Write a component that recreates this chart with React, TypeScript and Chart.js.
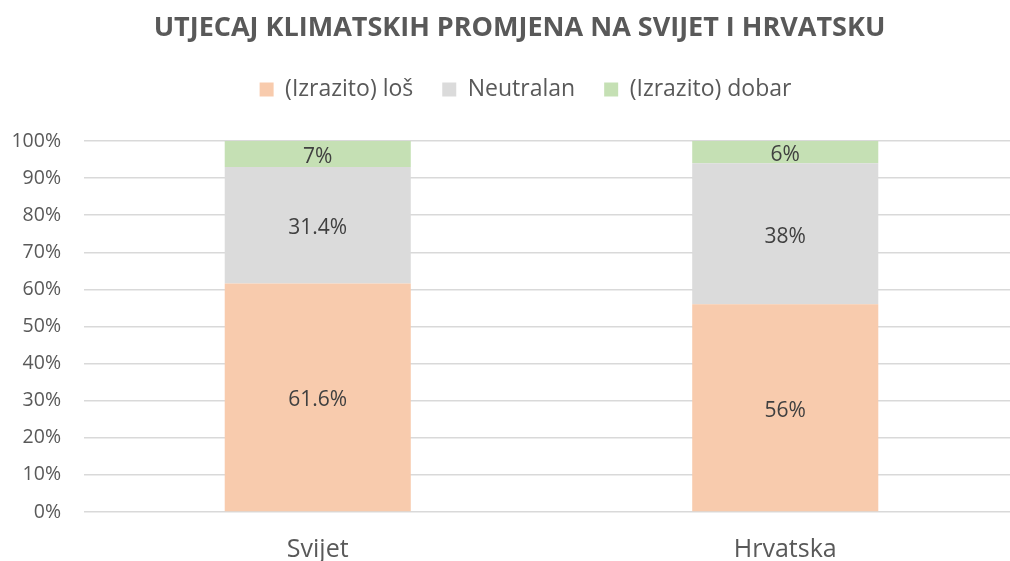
import React, { useEffect, useRef } from "react";
import { Chart, registerables } from "chart.js";

Chart.register(...registerables);

const title = "UTJECAJ KLIMATSKIH PROMJENA NA SVIJET I HRVATSKU";
const categories = ["Svijet", "Hrvatska"];
const seriesNames = ["(Izrazito) loš", "Neutralan", "(Izrazito) dobar"];
const losValues = [61.6, 56];
const neutralValues = [31.4, 38];
const dobarValues = [7, 6];
const seriesColors = ["#F8CBAD", "#DBDBDB", "#C5E0B4"];
const yTicks = [0, 10, 20, 30, 40, 50, 60, 70, 80, 90, 100];

const FONT = "'Open Sans', 'Noto Sans', sans-serif";

const labelPlugin = {
  id: "barLabels",
  afterDatasetsDraw(chart: any) {
    const ctx = chart.ctx;
    ctx.save();
    ctx.font = `21px ${FONT}`;
    ctx.fillStyle = "#404040";
    ctx.textAlign = "center";
    ctx.textBaseline = "middle";
    chart.data.datasets.forEach((ds: any, di: number) => {
      const meta = chart.getDatasetMeta(di);
      meta.data.forEach((bar: any, i: number) => {
        const v = ds.data[i];
        const y = (bar.y + bar.base) / 2;
        ctx.fillText(`${v}%`, bar.x, y + 3);
      });
    });
    ctx.restore();
  },
};

const shiftPlugin = {
  id: "shiftHeader",
  afterLayout(chart: any) {
    if (chart.titleBlock) {
      chart.titleBlock.left += 10;
      chart.titleBlock.right += 10;
    }
    if (chart.legend) {
      chart.legend.left += 16;
      chart.legend.right += 16;
    }
  },
};

export default function App() {
  const ref = useRef<HTMLCanvasElement>(null);
  useEffect(() => {
    if (!ref.current) return;
    const values = [losValues, neutralValues, dobarValues];
    const chart = new Chart(ref.current, {
      type: "bar",
      data: {
        labels: categories,
        datasets: seriesNames.map((name, i) => ({
          label: name,
          data: values[i],
          backgroundColor: seriesColors[i],
          borderWidth: 0,
          categoryPercentage: 1,
          barPercentage: 0.398,
        })),
      },
      options: {
        responsive: false,
        animation: false,
        layout: { padding: { left: 0, right: 0, top: 0, bottom: 0 } },
        plugins: {
          title: {
            display: true,
            text: title,
            color: "#595959",
            font: { family: FONT, size: 27, weight: "bold" },
            padding: { top: 12, bottom: 4.6 },
          },
          subtitle: {
            display: true,
            text: " ",
            weight: 500,
            font: { size: 10, lineHeight: 1 },
            padding: { top: 0, bottom: 20 },
          },
          legend: {
            display: true,
            position: "top",
            labels: {
              color: "#595959",
              font: { family: FONT, size: 23 },
              boxWidth: 14,
              boxHeight: 14,
              padding: 29,
            },
          },
          tooltip: { enabled: false },
        },
        scales: {
          x: {
            stacked: true,
            grid: { display: false },
            border: { display: false },
            ticks: {
              color: "#595959",
              font: { family: FONT, size: 25 },
              padding: 15,
            },
            afterFit(scale: any) {
              scale.height = 49;
            },
          },
          y: {
            stacked: true,
            min: 0,
            max: 100,
            afterBuildTicks(scale: any) {
              scale.ticks = yTicks.map((v) => ({ value: v }));
            },
            grid: { color: "#D9D9D9", lineWidth: 1.5, drawTicks: false },
            border: { display: false },
            ticks: {
              color: "#595959",
              font: { family: FONT, size: 19.5 },
              padding: 23,
              callback: (v: any) => `${v}%`,
            },
            afterFit(scale: any) {
              scale.width = 84;
            },
          },
        },
      },
      plugins: [labelPlugin, shiftPlugin],
    });
    return () => chart.destroy();
  }, []);
  return (
    <div style={{ position: "absolute", left: 0, top: 0, width: 1010, height: 561, overflow: "hidden", background: "#fff" }}>
      <canvas ref={ref} width={1019} height={561} style={{ display: "block" }} />
    </div>
  );
}
